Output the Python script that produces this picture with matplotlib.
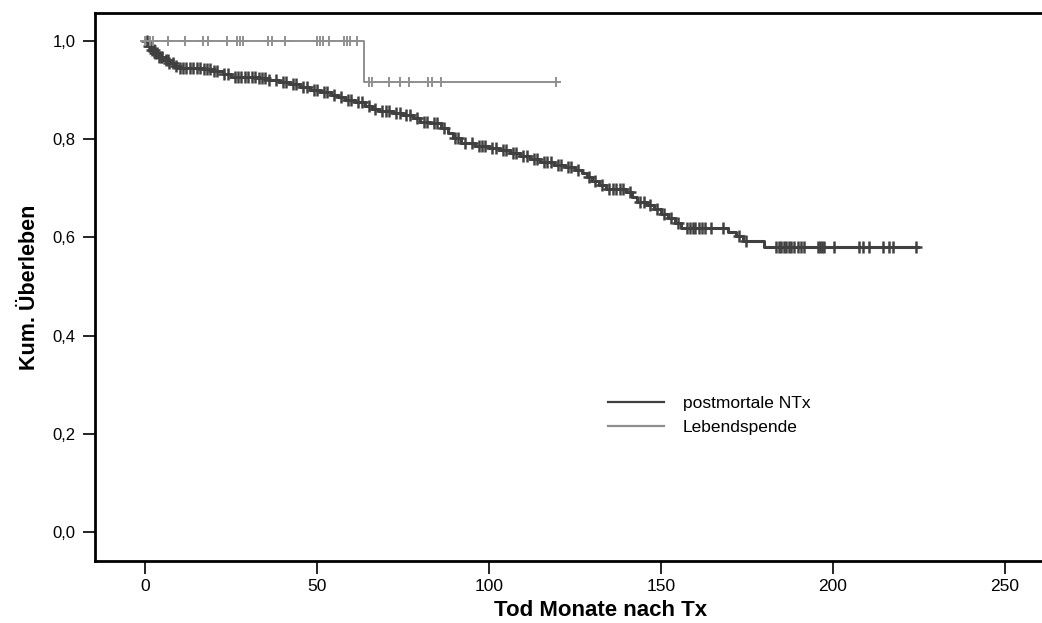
import numpy as np
import matplotlib
matplotlib.use("Agg")
import matplotlib.pyplot as plt
from matplotlib.ticker import FuncFormatter

# --- postmortale NTx: step points (month, cum. survival) ---
pm_time = [0, 1, 2, 3, 4, 5.5, 7, 8.5, 10, 13, 17, 20, 22.5, 25, 33, 36, 39, 42,
           45, 48, 51, 54, 56, 58, 61, 64, 66, 68, 72, 75, 78, 80, 83, 86, 88,
           89.5, 92, 96, 100, 103, 106, 109, 112, 115, 119, 122, 125, 127, 128.5,
           130, 132, 134, 140, 141.5, 143, 146, 148, 150, 152, 154, 156, 169.5,
           172, 174, 180]
pm_surv = [1.0, 0.99, 0.982, 0.975, 0.968, 0.962, 0.955, 0.95, 0.946, 0.944,
           0.942, 0.938, 0.932, 0.927, 0.924, 0.921, 0.917, 0.913, 0.907, 0.901,
           0.896, 0.89, 0.885, 0.88, 0.875, 0.868, 0.862, 0.858, 0.854, 0.85,
           0.843, 0.836, 0.832, 0.822, 0.812, 0.802, 0.792, 0.787, 0.782, 0.777,
           0.771, 0.765, 0.76, 0.753, 0.748, 0.744, 0.738, 0.731, 0.722, 0.714,
           0.706, 0.698, 0.693, 0.683, 0.673, 0.666, 0.657, 0.648, 0.64, 0.63,
           0.62, 0.612, 0.602, 0.592, 0.581]
pm_end = 224.8
pm_censor = [0.5, 1, 1.5, 2, 2.5, 3, 3.5, 4, 4.5, 5, 6, 6.5, 7, 8, 9, 10, 11, 12,
             13, 14, 15, 16, 17, 18, 19, 20, 21, 23, 24, 26, 27, 28, 29, 30, 31,
             32, 33, 34, 35, 36, 38, 40, 41, 43, 44, 46, 47, 49, 50, 52, 53, 55,
             57, 59, 60, 62, 63, 65, 67, 69, 70, 71, 73, 74, 76, 77, 79, 81, 82,
             84, 85, 87, 90, 91, 93, 95, 97, 98, 99, 101, 102, 104, 105, 107,
             108, 110, 111, 113, 114, 116, 117, 118, 120, 121, 123, 124, 126,
             129, 131, 133, 135, 136, 137, 138, 139, 141, 144, 145, 147, 149,
             151, 153, 155, 157.7, 158.5, 159.3, 160, 161, 162, 163, 164.5, 168,
             172.7, 174.7, 183.5, 184.3, 185, 185.7, 186.5, 187.2, 188, 188.7,
             189.8, 190.7, 191.6, 195.6, 196.2, 196.8, 197.4, 200.4, 207.7,
             208.7, 210.6, 214.5, 216.5, 217.5, 224.2]

# --- Lebendspende ---
ls_time = [0, 63.8]
ls_surv = [1.0, 0.9167]
ls_end = 120
ls_censor = [0, 1.5, 2.3, 6.6, 11.6, 16.9, 18.3, 23.9, 26.8, 27.7, 28.5, 35.8,
             37, 40.8, 50.1, 51, 51.8, 53.6, 57.7, 58.8, 59.7, 61.7, 65.0, 66.0,
             70.9, 74.1, 76.7, 82.3, 83.3, 86.1, 119.5]

labels = ["postmortale NTx", "Lebendspende"]
colors = ["#404040", "#8f8f8f"]
y_ticks = [0.0, 0.2, 0.4, 0.6, 0.8, 1.0]
x_ticks = [0, 50, 100, 150, 200, 250]

plt.rcParams["font.family"] = ["Liberation Sans", "DejaVu Sans"]

fig = plt.figure(figsize=(10.42, 6.23), dpi=100)
ax = fig.add_axes([95 / 1042, 1 - 561 / 623, 1 - 95 / 1042 + 0.001, (561 - 13) / 623])


def km_plot(t, s, end, cens, color, lw, label, ms, mew):
    xs = list(t) + [end]
    ys = list(s) + [s[-1]]
    ax.step(xs, ys, where="post", color=color, lw=lw, label=label, zorder=3)
    idx = np.searchsorted(np.array(t), np.array(cens), side="right") - 1
    ax.plot(cens, np.array(s)[idx], linestyle="none", marker="+",
            markersize=ms, markeredgewidth=mew, color=color, zorder=3)


km_plot(pm_time, pm_surv, pm_end, pm_censor, colors[0], 2.2, labels[0], 8, 1.8)
km_plot(ls_time, ls_surv, ls_end, ls_censor, colors[1], 1.4, labels[1], 7.5, 1.4)

ax.set_xlim(-14.6, 261.2)
ax.set_ylim(-0.059, 1.057)
ax.set_xticks(x_ticks)
ax.set_yticks(y_ticks)
ax.yaxis.set_major_formatter(FuncFormatter(lambda v, p: f"{v:.1f}".replace(".", ",")))
ax.tick_params(axis="both", direction="out", length=9, width=1.2, colors="black",
               labelsize=12)
ax.tick_params(axis="y", pad=5)
ax.tick_params(axis="x", pad=4, labelsize=12.5)

for side in ["left", "bottom", "top"]:
    ax.spines[side].set_linewidth(2)
ax.spines["right"].set_visible(False)

ax.set_xlabel("Tod Monate nach Tx", fontsize=16, fontweight="bold")
ax.xaxis.set_label_coords(0.533, -0.072)
ax.set_ylabel("Kum. Überleben", fontsize=15.5, fontweight="bold", labelpad=9)

leg = ax.legend(loc="upper left", bbox_to_anchor=(0.525, 0.33), frameon=False,
                fontsize=12.5, handlelength=3.2, handletextpad=1.1, labelspacing=0.5)
for h in leg.get_lines():
    h.set_linewidth(1.6)

fig.savefig("out.png", dpi=100)
